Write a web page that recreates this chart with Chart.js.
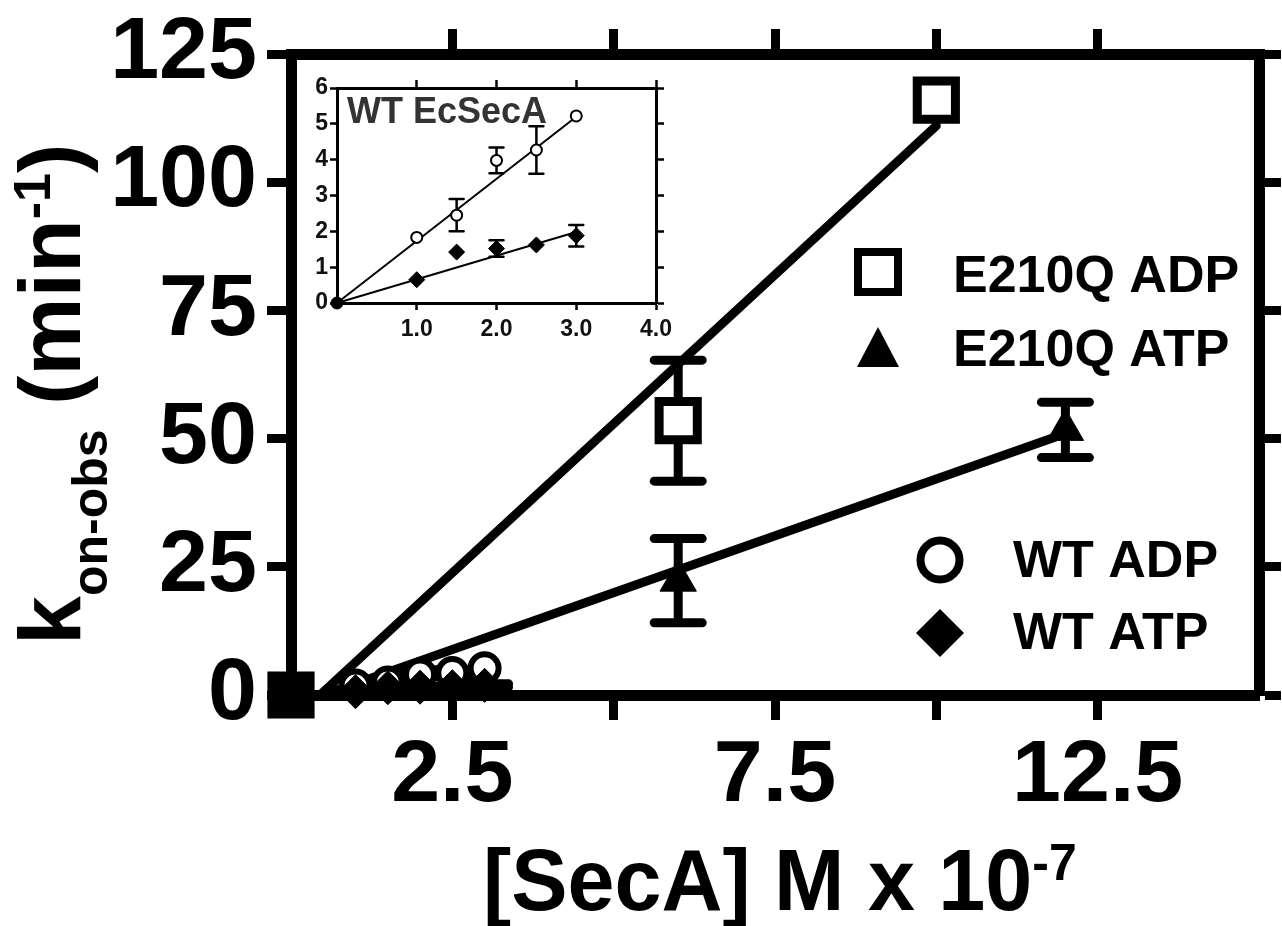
<!DOCTYPE html>
<html><head><meta charset="utf-8">
<script src="https://cdn.jsdelivr.net/npm/chart.js"></script>
<style>
html,body{margin:0;padding:0;background:#fff;}
#wrap{position:relative;width:1282px;height:926px;background:#fff;}
#main{position:absolute;left:0;top:0;}
#inset{position:absolute;left:300px;top:70px;}
</style></head><body>
<div id="wrap">
<canvas id="main" width="1282" height="926"></canvas>
<canvas id="inset" width="380" height="290"></canvas>
</div>
<script>
// ---------- data ----------
const e210qADPX   = [0, 6, 10];
const e210qADPY   = [0, 53.5, 116];
const e210qADPErr = [0, 11.8, 0];
const e210qATPX   = [6, 12];
const e210qATPY   = [22.3, 51.7];
const e210qATPErr = [8.2, 5.4];
const wtX      = [1, 1.5, 2, 2.5, 3];
const wtADPY   = [1.83, 2.45, 3.98, 4.27, 5.22];
const wtADPErr = [0, 0.45, 0.36, 0.66, 0];
const wtATPY   = [0.65, 1.42, 1.52, 1.62, 1.88];
const wtATPErr = [0, 0, 0.23, 0, 0.3];
const fitE210qADPX = [0.45, 10];
const fitE210qADPY = [0, 111];
const fitE210qATPX = [0.5, 12];
const fitE210qATPY = [0, 51];
const fitWtADPX = [0, 3];
const fitWtADPY = [0, 5.2];
const fitWtATPX = [0, 3];
const fitWtATPY = [0, 1.98];
const originX = [0];
const originY = [0];
const mainXTickLabels = [2.5, 7.5, 12.5];
const insetXTickLabels = [1, 2, 3, 4];
const legendLabels = ['E210Q ADP', 'E210Q ATP', 'WT ADP', 'WT ATP'];
const yTitleParts = ['k', 'on-obs', ' (min', '-1', ')'];
const xTitleParts = ['[SecA] M x 10', '-7'];
const insetTitle = 'WT EcSecA';

// ---------- helpers ----------
const FAM = '"Liberation Sans", Arial, sans-serif';
Chart.defaults.font.family = FAM;
function pts(xs, ys) { return xs.map((x, i) => ({x: x, y: ys[i]})); }
const clear = 'rgba(0,0,0,0)';

const errorBars = {
  id: 'errorBars',
  beforeDatasetsDraw(chart, args, opts) {
    const ctx = chart.ctx;
    const ys = chart.scales.y;
    ctx.save();
    ctx.strokeStyle = '#000';
    ctx.lineWidth = opts.width;
    ctx.lineCap = 'round';
    chart.data.datasets.forEach((ds, di) => {
      if (!ds.errs) return;
      const meta = chart.getDatasetMeta(di);
      meta.data.forEach((el, i) => {
        const e = ds.errs[i];
        if (!e) return;
        const v = ds.data[i].y;
        const x = el.x;
        const t = ys.getPixelForValue(v + e), b = ys.getPixelForValue(v - e);
        ctx.beginPath();
        ctx.moveTo(x, t); ctx.lineTo(x, b);
        ctx.moveTo(x - opts.cap, t); ctx.lineTo(x + opts.cap, t);
        ctx.moveTo(x - opts.cap, b); ctx.lineTo(x + opts.cap, b);
        ctx.stroke();
      });
    });
    ctx.restore();
  }
};

function drawParts(ctx, parts, roles, sizes, shifts) {
  let x = 0;
  parts.forEach((t, i) => {
    const r = roles[i];
    ctx.font = 'bold ' + sizes[r] + 'px ' + FAM;
    ctx.fillText(t, x, shifts[r]);
    x += ctx.measureText(t).width;
  });
}

const mainDecor = {
  id: 'mainDecor',
  afterDraw(chart) {
    const ctx = chart.ctx;
    ctx.save();
    ctx.fillStyle = '#000';
    ctx.textAlign = 'left';
    ctx.textBaseline = 'alphabetic';
    const sizes = {base: 88, sub: 50, sup: 52};
    const shifts = {base: 0, sub: 27, sup: -30};
    // y title
    ctx.save();
    ctx.translate(80, 645);
    ctx.rotate(-Math.PI / 2);
    drawParts(ctx, yTitleParts, ['base', 'sub', 'base', 'sup', 'base'], sizes, shifts);
    ctx.restore();
    // x title
    ctx.save();
    ctx.translate(483, 910);
    ctx.scale(0.96, 1);
    drawParts(ctx, xTitleParts, ['base', 'sup'], sizes, shifts);
    ctx.restore();
    // legend
    ctx.font = 'bold 52px ' + FAM;
    ctx.strokeStyle = '#000';
    ctx.lineWidth = 8;
    ctx.fillStyle = '#fff';
    ctx.beginPath(); ctx.rect(878 - 20, 272 - 20, 40, 40); ctx.fill(); ctx.stroke();
    ctx.fillStyle = '#000';
    ctx.fillText(legendLabels[0], 953, 292);
    ctx.beginPath(); ctx.moveTo(878, 327); ctx.lineTo(899, 367); ctx.lineTo(857, 367); ctx.closePath(); ctx.fill();
    ctx.fillText(legendLabels[1], 953, 366);
    ctx.fillStyle = '#fff';
    ctx.beginPath(); ctx.arc(940, 560, 19.5, 0, Math.PI * 2); ctx.fill(); ctx.stroke();
    ctx.fillStyle = '#000';
    ctx.fillText(legendLabels[2], 1013, 577);
    ctx.beginPath(); ctx.moveTo(940, 609); ctx.lineTo(964, 633); ctx.lineTo(940, 657); ctx.lineTo(916, 633); ctx.closePath(); ctx.fill();
    ctx.fillText(legendLabels[3], 1013, 649);
    ctx.restore();
  }
};

const insetDecor = {
  id: 'insetDecor',
  afterDraw(chart) {
    const ctx = chart.ctx;
    ctx.save();
    ctx.fillStyle = '#333';
    ctx.font = 'bold 36px ' + FAM;
    ctx.textAlign = 'left';
    ctx.textBaseline = 'alphabetic';
    ctx.fillText(insetTitle, 47, 53);
    ctx.restore();
  }
};

// ---------- main chart ----------
const bigFont = {size: 88, weight: 'bold', lineHeight: 1};
const hideXEnds = (c) => (c.tick && (c.tick.value <= 0 || c.tick.value >= 15)) ? clear : '#000';
const mainBorder = {display: true, width: 11, color: '#000'};

new Chart(document.getElementById('main'), {
  type: 'scatter',
  data: {
    datasets: [
      {label: 'E210Q ADP', data: pts(e210qADPX, e210qADPY), errs: e210qADPErr,
       pointStyle: 'rect', pointRadius: 27, pointBorderWidth: 9, pointBorderColor: '#000',
       pointBackgroundColor: (c) => (c.raw && c.raw.x === 0) ? '#000' : '#fff', clip: false},
      {label: 'E210Q ATP', data: pts(e210qATPX, e210qATPY), errs: e210qATPErr,
       pointStyle: 'triangle', pointRadius: 21, pointBorderWidth: 1, pointBorderColor: '#000',
       pointBackgroundColor: '#000', clip: false},
      {label: 'WT ATP', data: pts(wtX, wtATPY), errs: wtATPErr,
       pointStyle: 'rectRot', pointRadius: 17, pointBorderWidth: 1, pointBorderColor: '#000',
       pointBackgroundColor: '#000', clip: false},
      {label: 'WT ADP', data: pts(wtX, wtADPY), errs: wtADPErr,
       pointStyle: 'circle', pointRadius: 14, pointBorderWidth: 6, pointBorderColor: '#000',
       pointBackgroundColor: '#fff', clip: false},
      {label: 'fit ADP', data: pts(fitE210qADPX, fitE210qADPY), showLine: true, pointRadius: 0,
       borderColor: '#000', borderWidth: 9, borderCapStyle: 'round', clip: false},
      {label: 'fit ATP', data: pts(fitE210qATPX, fitE210qATPY), showLine: true, pointRadius: 0,
       borderColor: '#000', borderWidth: 9, borderCapStyle: 'round', clip: false}
    ]
  },
  options: {
    responsive: false, animation: false, devicePixelRatio: 1, events: [],
    layout: {padding: 0, autoPadding: false},
    plugins: {legend: {display: false}, tooltip: {enabled: false},
              errorBars: {width: 9, cap: 24}},
    scales: {
      x: {type: 'linear', position: 'bottom', min: 0, max: 15,
          ticks: {stepSize: 2.5, autoSkip: false, maxRotation: 0, padding: 13, font: bigFont, color: '#000',
                  callback: (v) => mainXTickLabels.includes(v) ? v.toFixed(1) : ''},
          grid: {drawOnChartArea: false, tickLength: 25, tickWidth: 9, tickColor: hideXEnds},
          border: mainBorder, afterFit: (s) => { s.height = 231; }},
      x2: {type: 'linear', position: 'top', min: 0, max: 15,
          ticks: {stepSize: 2.5, display: false},
          grid: {drawOnChartArea: false, tickLength: 25, tickWidth: 9, tickColor: hideXEnds},
          border: mainBorder, afterFit: (s) => { s.height = 52; }},
      y: {type: 'linear', position: 'left', min: 0, max: 125,
          ticks: {stepSize: 25, autoSkip: false, padding: 10, font: bigFont, color: '#000'},
          grid: {drawOnChartArea: false, tickLength: 24, tickWidth: 9, tickColor: '#000'},
          border: mainBorder, afterFit: (s) => { s.width = 291; }},
      y2: {type: 'linear', position: 'right', min: 0, max: 125,
          ticks: {stepSize: 25, display: false},
          grid: {drawOnChartArea: false, tickLength: 22, tickWidth: 9, tickColor: '#000'},
          border: mainBorder, afterFit: (s) => { s.width = 23; }}
    }
  },
  plugins: [errorBars, mainDecor]
});

// ---------- inset chart ----------
const smallFont = {size: 23, weight: 'bold', lineHeight: 1};
const insetBorder = {display: true, width: 3, color: '#000'};
const hideInsetZero = (c) => (c.tick && c.tick.value <= 0) ? clear : '#000';

new Chart(document.getElementById('inset'), {
  type: 'scatter',
  data: {
    datasets: [
      {label: 'origin', data: pts(originX, originY), pointStyle: 'circle', pointRadius: 6,
       pointBorderWidth: 1, pointBorderColor: '#000', pointBackgroundColor: '#000', clip: false},
      {label: 'WT ADP', data: pts(wtX, wtADPY), errs: wtADPErr,
       pointStyle: 'circle', pointRadius: 5.5, pointBorderWidth: 2, pointBorderColor: '#000',
       pointBackgroundColor: '#fff', clip: false},
      {label: 'WT ATP', data: pts(wtX, wtATPY), errs: wtATPErr,
       pointStyle: 'rectRot', pointRadius: 8, pointBorderWidth: 1, pointBorderColor: '#000',
       pointBackgroundColor: '#000', clip: false},
      {label: 'fit ADP', data: pts(fitWtADPX, fitWtADPY), showLine: true, pointRadius: 0,
       borderColor: '#000', borderWidth: 2, clip: false},
      {label: 'fit ATP', data: pts(fitWtATPX, fitWtATPY), showLine: true, pointRadius: 0,
       borderColor: '#000', borderWidth: 2, clip: false}
    ]
  },
  options: {
    responsive: false, animation: false, devicePixelRatio: 1, events: [],
    layout: {padding: 0, autoPadding: false},
    plugins: {legend: {display: false}, tooltip: {enabled: false},
              errorBars: {width: 2.5, cap: 7}},
    scales: {
      x: {type: 'linear', position: 'bottom', min: 0, max: 4,
          ticks: {stepSize: 1, autoSkip: false, maxRotation: 0, padding: 8, font: smallFont, color: '#111',
                  callback: (v) => insetXTickLabels.includes(v) ? v.toFixed(1) : ''},
          grid: {drawOnChartArea: false, tickLength: 7, tickWidth: 2.5, tickColor: hideInsetZero},
          border: insetBorder, afterFit: (s) => { s.height = 57; }},
      x2: {type: 'linear', position: 'top', min: 0, max: 4,
          ticks: {stepSize: 1, display: false},
          grid: {drawOnChartArea: false, tickLength: 8, tickWidth: 2.5, tickColor: hideInsetZero},
          border: insetBorder, afterFit: (s) => { s.height = 18; }},
      y: {type: 'linear', position: 'left', min: 0, max: 6,
          ticks: {stepSize: 1, autoSkip: false, padding: 2, font: smallFont, color: '#111'},
          grid: {drawOnChartArea: false, tickLength: 7, tickWidth: 2.5, tickColor: '#000'},
          border: insetBorder, afterFit: (s) => { s.width = 37; }},
      y2: {type: 'linear', position: 'right', min: 0, max: 6,
          ticks: {stepSize: 1, display: false},
          grid: {drawOnChartArea: false, tickLength: 8, tickWidth: 2.5, tickColor: '#000'},
          border: insetBorder, afterFit: (s) => { s.width = 20; }}
    }
  },
  plugins: [errorBars, insetDecor]
});
</script>
</body></html>
